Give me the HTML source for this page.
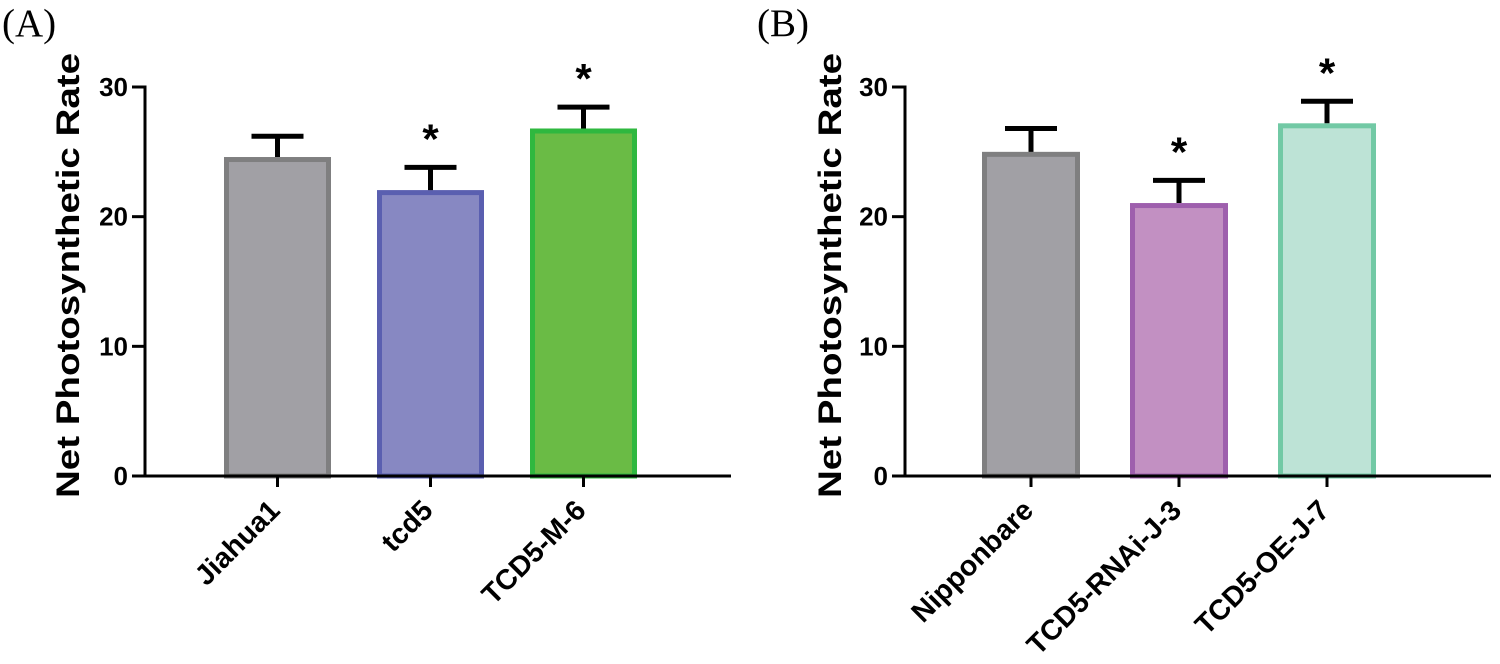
<!DOCTYPE html>
<html><head><meta charset="utf-8"><style>
html,body{margin:0;padding:0;background:#fff;width:1500px;height:664px;overflow:hidden}
svg{display:block}
</style></head><body>
<svg id="chart" width="1500" height="664" viewBox="0 0 1500 664" xmlns="http://www.w3.org/2000/svg" font-family="Liberation Sans, Arial, sans-serif"></svg>
<script>
const categoriesA = ["Jiahua1", "tcd5", "TCD5-M-6"];
const valuesA = [24.6, 22.05, 26.8];
const errorsA = [1.6, 1.75, 1.65];
const sigA = [false, true, true];
const categoriesB = ["Nipponbare", "TCD5-RNAi-J-3", "TCD5-OE-J-7"];
const valuesB = [25.0, 21.05, 27.2];
const errorsB = [1.8, 1.75, 1.7];
const sigB = [false, true, true];
const yTicks = [0, 10, 20, 30];

const NS = "http://www.w3.org/2000/svg";
const svg = document.getElementById('chart');
function mk(tag, attrs, parent){const e=document.createElementNS(NS,tag);for(const k in attrs)e.setAttribute(k,attrs[k]);(parent||svg).appendChild(e);return e;}

const panels = [
 {label:"(A)", lx:2, ax:145, axEnd:731, firstX:224, step:153, bw:107, cats:categoriesA, vals:valuesA, errs:errorsA, sig:sigA,
  fills:["#a1a0a5","#8788c2","#6abb45"], strokes:["#7f7f80","#5a5fb0","#2fb83f"], titleX:68, key:"a"},
 {label:"(B)", lx:757, ax:905, axEnd:1491, firstX:982, step:148, bw:98, cats:categoriesB, vals:valuesB, errs:errorsB, sig:sigB,
  fills:["#a1a0a5","#c290c2","#bde3d6"], strokes:["#7f7f80","#9e5fad","#72c9a5"], titleX:830, key:"b"}
];
const y0 = 476, y30 = 87;
function yScale(v){return y0 - (y0 - y30) * v / 30;}

panels.forEach(p=>{
  const g = mk('g',{});
  
  
  const pl = mk('text',{x:p.lx,y:36,'font-size':39,'font-family':'Liberation Serif, serif'},g);
  pl.textContent = p.label;
  
  
  const yt = mk('text',{x:0,y:0,'font-size':32,'font-weight':'bold','text-anchor':'middle',transform:`translate(${p.titleX+11},${(y0+y30)/2-6}) rotate(-90)`,textLength:445,lengthAdjust:'spacingAndGlyphs'},g);
  yt.textContent = "Net Photosynthetic Rate";
  
  
  p.vals.forEach((v,i)=>{
    const cx = p.firstX + p.bw/2 + i*p.step;
    const top = yScale(v);
    const r = mk('rect',{x:cx-p.bw/2+2.5,y:top+2.5,width:p.bw-5,height:y0-top-2.5,fill:p.fills[i],stroke:p.strokes[i],'stroke-width':5},g);
    
    
    const et = yScale(v + p.errs[i]);
    const el = mk('path',{d:`M${cx},${top} V${et} M${cx-26},${et} H${cx+26}`,stroke:'#000','stroke-width':5,fill:'none'},g);
    
    
    if(p.sig[i]){
      const s = mk('text',{x:cx,y:et-14,'font-size':42,'font-weight':'bold','text-anchor':'middle'},g);
      s.textContent = "*";
      
      
    }
    const tk = mk('line',{x1:cx,y1:y0,x2:cx,y2:y0+11,stroke:'#000','stroke-width':3},g);
    
    
    const lb = mk('text',{x:0,y:0,'font-size':28.5,'font-weight':'bold','text-anchor':'end',transform:`translate(${cx+4},${y0+36}) rotate(-45)`},g);
    lb.textContent = p.cats[i];
    
    
  });
  const ya = mk('line',{x1:p.ax,y1:y30-1.5,x2:p.ax,y2:y0+1.5,stroke:'#000','stroke-width':3},g);
  
  
  const xa = mk('line',{x1:p.ax-1.5,y1:y0,x2:p.axEnd,y2:y0,stroke:'#000','stroke-width':3},g);
  
  
  yTicks.forEach(t=>{
    const yy = yScale(t);
    const tl = mk('line',{x1:p.ax-13,y1:yy,x2:p.ax,y2:yy,stroke:'#000','stroke-width':3},g);
    
    
    const tx = mk('text',{x:p.ax-17,y:yy+9,'font-size':26,'font-weight':'bold','text-anchor':'end'},g);
    tx.textContent = t;
    
    
  });
});
</script>
</body></html>
